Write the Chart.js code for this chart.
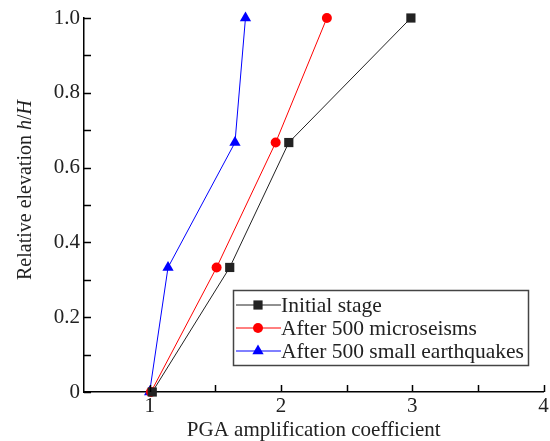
<!DOCTYPE html>
<html lang="en">
  <head>
    <meta charset="UTF-8" />
    <title>PGA amplification coefficient</title>
    <script src="https://cdn.jsdelivr.net/npm/chart.js"></script>
    <style>
      body { margin: 0; background: #fff; overflow: hidden; }
      #pgaChart { display: block; }
    </style>
  </head>
  <body>
    <canvas id="pgaChart" width="550" height="441"></canvas>
    <script>
      // relative elevation h/H of the measuring points
      const heights = [0, 0.333, 0.667, 1.0];
      // PGA amplification coefficient per stage
      const initialStage = [1.02, 1.61, 2.06, 2.99];
      const afterMicroseisms = [1.01, 1.51, 1.96, 2.35];
      const afterSmallQuakes = [1.0, 1.14, 1.65, 1.73];

      const seriesNames = ["Initial stage", "After 500 microseisms", "After 500 small earthquakes"];
      const xTicks = [1, 1.5, 2, 2.5, 3, 3.5, 4];
      const yTicks = [0, 0.1, 0.2, 0.3, 0.4, 0.5, 0.6, 0.7, 0.8, 0.9, 1.0];

      const FONT = "'Liberation Serif', 'Times New Roman', serif";

      function toPoints(xs) {
        return xs.map((x, i) => ({ x: x, y: heights[i] }));
      }

      function makeSet(label, xs, color, style, radius) {
        return {
          label: label,
          data: toPoints(xs),
          showLine: true,
          borderColor: color,
          backgroundColor: color,
          borderWidth: 1,
          pointStyle: style,
          pointRadius: radius,
          pointHoverRadius: radius,
          pointBorderWidth: 0,
          clip: false,
        };
      }

      const datasets = [
        makeSet(seriesNames[0], initialStage, "#222222", "rect", 6.5),
        makeSet(seriesNames[1], afterMicroseisms, "#ff0000", "circle", 5),
        makeSet(seriesNames[2], afterSmallQuakes, "#0000ff", "triangle", 6.5),
      ];

      // inward tick marks on both axes
      const innerTicks = {
        id: "innerTicks",
        afterDraw(chart) {
          const ctx = chart.ctx;
          const xs = chart.scales.x;
          const ys = chart.scales.y;
          const area = chart.chartArea;
          ctx.save();
          ctx.strokeStyle = "#000";
          ctx.lineWidth = 1.5;
          ctx.beginPath();
          xTicks.forEach((v) => {
            const px = Math.round(xs.getPixelForValue(v)) + 0.5;
            ctx.moveTo(px, area.bottom);
            ctx.lineTo(px, area.bottom - 7);
          });
          yTicks.forEach((v) => {
            const py = Math.round(ys.getPixelForValue(v)) + 0.5;
            ctx.moveTo(area.left, py);
            ctx.lineTo(area.left + 7, py);
          });
          ctx.stroke();
          ctx.restore();
        },
      };

      // y axis title with italic h/H
      const yTitle = {
        id: "yTitle",
        afterDraw(chart) {
          const ctx = chart.ctx;
          const parts = [
            { t: "Relative elevation ", f: "20px " + FONT },
            { t: "h", f: "italic 20px " + FONT },
            { t: "/", f: "20px " + FONT },
            { t: "H", f: "italic 20px " + FONT },
          ];
          ctx.save();
          let total = 0;
          parts.forEach((p) => {
            ctx.font = p.f;
            p.w = ctx.measureText(p.t).width;
            total += p.w;
          });
          ctx.translate(26, 190);
          ctx.rotate(-Math.PI / 2);
          ctx.fillStyle = "#222";
          ctx.textBaseline = "middle";
          ctx.textAlign = "left";
          let x = -total / 2;
          parts.forEach((p) => {
            ctx.font = p.f;
            ctx.fillText(p.t, x, 0);
            x += p.w;
          });
          ctx.restore();
        },
      };

      // boxed legend inside the plot area
      const boxLegend = {
        id: "boxLegend",
        afterDraw(chart) {
          const ctx = chart.ctx;
          const left = 233, top = 290, w = 295, rowH = 23;
          ctx.save();
          ctx.strokeStyle = "#444";
          ctx.lineWidth = 1.5;
          ctx.strokeRect(left + 0.5, top + 0.5, w, 75);
          chart.data.datasets.forEach((ds, i) => {
            const y = top + 15 + i * rowH;
            ctx.strokeStyle = ds.borderColor;
            ctx.lineWidth = 1;
            ctx.beginPath();
            ctx.moveTo(left + 3, y);
            ctx.lineTo(left + 48, y);
            ctx.stroke();
            ctx.fillStyle = ds.backgroundColor;
            Chart.helpers.drawPoint(ctx, {
              pointStyle: ds.pointStyle,
              radius: ds.pointRadius,
              rotation: 0,
              borderWidth: 0,
            }, left + 25, y);
            ctx.fillStyle = "#222";
            ctx.font = "21.5px " + FONT;
            ctx.textBaseline = "middle";
            ctx.fillText(ds.label, left + 48, y + 1);
          });
          ctx.restore();
        },
      };

      new Chart(document.getElementById("pgaChart"), {
        type: "scatter",
        data: { datasets: datasets },
        options: {
          responsive: false,
          animation: false,
          layout: { padding: { top: 18, right: 5, left: 0, bottom: 0 } },
          plugins: {
            legend: { display: false },
            tooltip: { enabled: false },
          },
          scales: {
            x: {
              type: "linear",
              min: 0.5,
              max: 4,
              afterBuildTicks: (scale) => {
                scale.ticks = xTicks.map((v) => ({ value: v }));
              },
              afterFit: (scale) => {
                scale.height = 49;
                scale.paddingLeft = 0;
                scale.paddingRight = 0;
              },
              ticks: {
                autoSkip: false,
                maxRotation: 0,
                color: "#222",
                font: { family: FONT, size: 21, lineHeight: 1 },
                padding: 4,
                callback: (v) => (Number.isInteger(v) ? String(v) : ""),
              },
              grid: { drawOnChartArea: false, drawTicks: false },
              border: { color: "#000", width: 1.5 },
              title: {
                display: true,
                text: "PGA amplification coefficient",
                color: "#222",
                font: { family: FONT, size: 21, lineHeight: 1 },
                padding: { top: 0, bottom: 0 },
              },
            },
            y: {
              type: "linear",
              min: 0,
              max: 1,
              afterBuildTicks: (scale) => {
                scale.ticks = yTicks.map((v) => ({ value: v }));
              },
              afterFit: (scale) => {
                scale.width = 84;
                scale.paddingTop = 0;
                scale.paddingBottom = 0;
              },
              ticks: {
                autoSkip: false,
                color: "#222",
                font: { family: FONT, size: 21 },
                padding: 4,
                callback: (v) => {
                  const k = Math.round(v * 10);
                  if (k % 2 !== 0) return "";
                  return k === 0 ? "0" : (k / 10).toFixed(1);
                },
              },
              grid: { drawOnChartArea: false, drawTicks: false },
              border: { color: "#000", width: 1.5 },
            },
          },
        },
        plugins: [innerTicks, yTitle, boxLegend],
      });
    </script>
  </body>
</html>
